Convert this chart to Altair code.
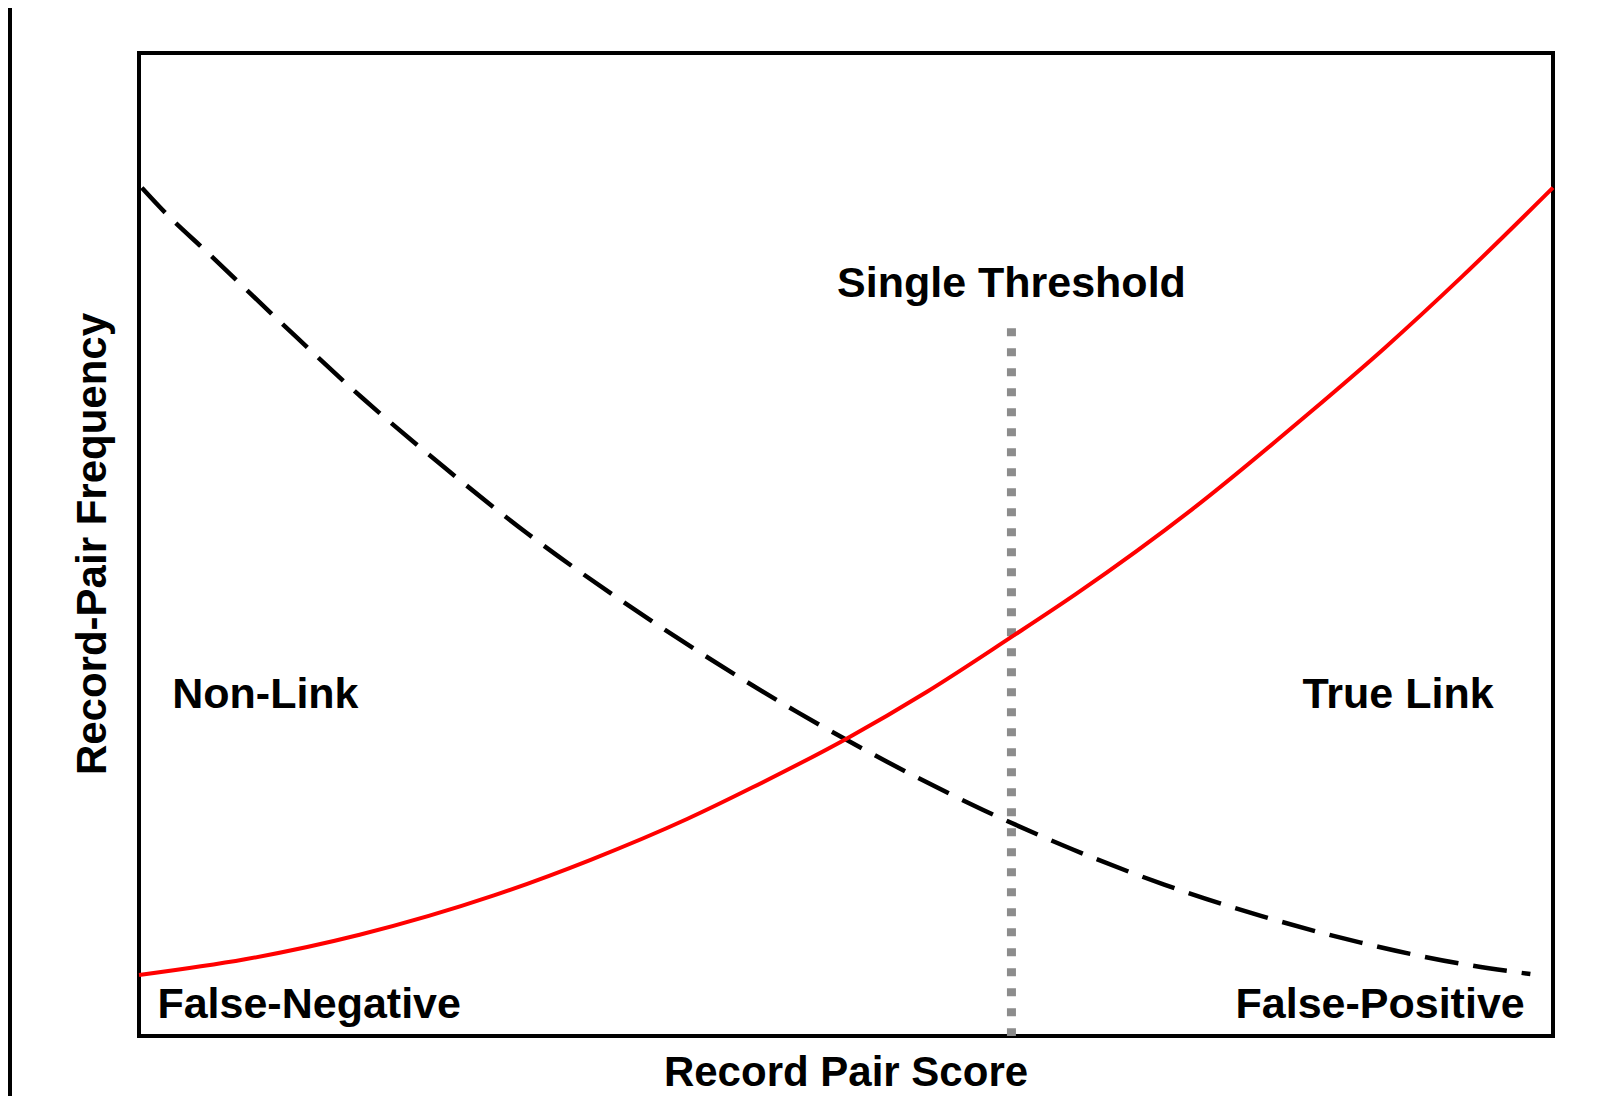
import altair as alt
import pandas as pd

# True-link distribution (red solid curve), score 0-100 vs relative frequency 0-100
true_score = [0, 7.5, 15.6, 25.1, 31.9, 38.8, 43.4, 50.1, 55.7, 61.6, 66.3, 74.5, 82.7, 88.1, 93.6, 100]
true_freq = [6.2, 7.8, 10.3, 14.3, 17.9, 22.1, 25.3, 30.3, 35.0, 40.5, 45.0, 53.6, 63.3, 70.0, 77.3, 86.3]

# Non-link distribution (black dashed curve)
non_score = [0.2, 2.1, 4.7, 10.1, 15.8, 21.8, 27.4, 33.8, 39.9, 46.5, 52.9, 59.7, 66.0,
             72.5, 79.4, 86.4, 93.7, 98.4]
non_freq = [86.3, 83.4, 79.9, 72.5, 64.9, 57.6, 51.2, 44.6, 38.8, 33.0, 27.9, 23.0, 19.0,
            15.4, 12.2, 9.5, 7.3, 6.3]

# Threshold
threshold_score = [61.7]
threshold_top = [72.0]

# Annotations
ann_text = ["Single Threshold", "Non-Link", "True Link", "False-Negative", "False-Positive"]
ann_x = [61.7, 2.35, 95.8, 1.3, 98.0]
ann_y = [75.2, 33.4, 33.4, 1.85, 1.85]
ann_align = ["center", "left", "right", "left", "right"]

x_title = "Record Pair Score"
y_title = "Record-Pair Frequency"

W, H = 1414, 983
FONT = "Liberation Sans"

xs = alt.Scale(domain=[0, 100], nice=False, zero=False)
ys = alt.Scale(domain=[0, 100], nice=False, zero=False)

df_true = pd.DataFrame({"x": true_score, "y": true_freq})
df_non = pd.DataFrame({"x": non_score, "y": non_freq})
df_thr = pd.DataFrame({"x": threshold_score, "y": threshold_top, "y0": [0.0]})
df_ann = pd.DataFrame({"text": ann_text, "x": ann_x, "y": ann_y, "align": ann_align})
one = pd.DataFrame({"a": [0]})

thr = alt.Chart(df_thr).mark_rule(
    color="#8c8c8c", strokeWidth=9, strokeDash=[8, 12], strokeCap="butt"
).encode(
    x=alt.X("x:Q", scale=xs, axis=None),
    y=alt.Y("y:Q", scale=ys, axis=None),
    y2="y0:Q",
)

non = alt.Chart(df_non).mark_line(
    color="black", strokeWidth=4.5, strokeDash=[34, 15], interpolate="monotone"
).encode(
    x=alt.X("x:Q", scale=xs, axis=None),
    y=alt.Y("y:Q", scale=ys, axis=None),
)

tru = alt.Chart(df_true).mark_line(
    color="#ff0000", strokeWidth=4, interpolate="monotone"
).encode(
    x=alt.X("x:Q", scale=xs, axis=None),
    y=alt.Y("y:Q", scale=ys, axis=None),
)

layers = [thr, non, tru]
for al in ["left", "center", "right"]:
    sub = df_ann[df_ann["align"] == al]
    layers.append(
        alt.Chart(sub).mark_text(
            font=FONT, fontWeight="bold", fontSize=43, align=al, baseline="alphabetic", color="black"
        ).encode(
            x=alt.X("x:Q", scale=xs, axis=None),
            y=alt.Y("y:Q", scale=ys, axis=None),
            text="text:N",
        )
    )

xt = alt.Chart(one).mark_text(
    font=FONT, fontWeight="bold", fontSize=42, align="center", baseline="alphabetic", color="black"
).encode(x=alt.value(W / 2), y=alt.value(1033), text=alt.value(x_title))

yt = alt.Chart(one).mark_text(
    font=FONT, fontWeight="bold", fontSize=42, align="center", baseline="alphabetic",
    color="black", angle=270
).encode(x=alt.value(-33), y=alt.value(491), text=alt.value(y_title))

strip = alt.Chart(one).mark_rect(color="black").encode(
    x=alt.value(-131), x2=alt.value(-127), y=alt.value(-45), y2=alt.value(H + 60)
)

chart = alt.layer(strip, *layers, xt, yt).properties(
    width=W, height=H,
    autosize=alt.AutoSizeParams(type="none"),
    padding={"left": 131, "top": 45, "right": 40, "bottom": 60},
    background="white",
).configure_view(stroke="black", strokeWidth=4)

chart.save("out.html", embed_options={"renderer": "svg", "actions": False})
